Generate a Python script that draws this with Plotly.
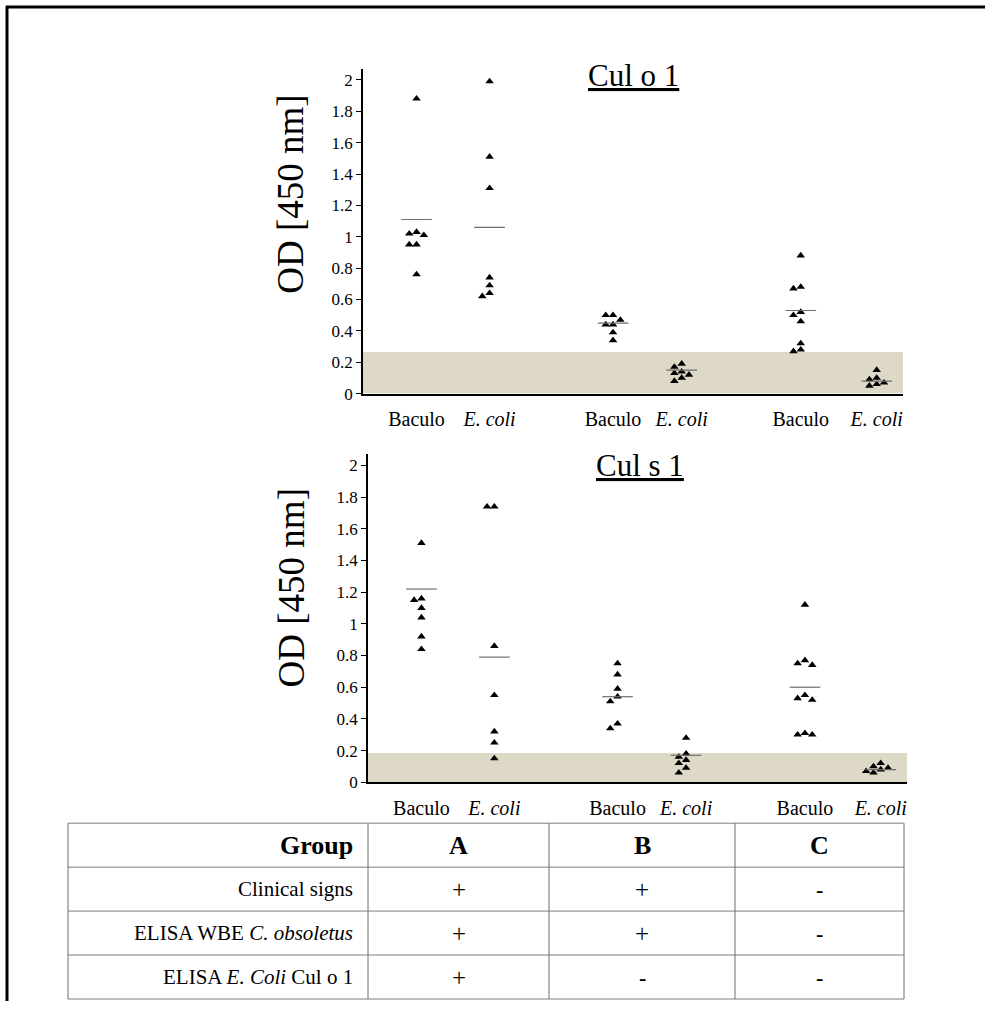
import plotly.graph_objects as go

# ---------------- data ----------------
categories = ["Baculo", "<i>E. coli</i>", "Baculo", "<i>E. coli</i>", "Baculo", "<i>E. coli</i>"]
groups = ["A", "B", "C"]

culo1_A_baculo = [1.88, 1.03, 1.02, 1.01, 0.95, 0.95, 0.76]
culo1_A_ecoli = [1.99, 1.51, 1.31, 0.74, 0.69, 0.64, 0.62]
culo1_B_baculo = [0.50, 0.50, 0.47, 0.44, 0.44, 0.39, 0.34]
culo1_B_ecoli = [0.19, 0.17, 0.14, 0.13, 0.12, 0.10, 0.08]
culo1_C_baculo = [0.88, 0.68, 0.67, 0.52, 0.50, 0.46, 0.32, 0.28, 0.27]
culo1_C_ecoli = [0.15, 0.10, 0.09, 0.07, 0.06, 0.05]
culo1_means = [1.11, 1.06, 0.45, 0.15, 0.53, 0.08]
culo1_cutoff = 0.265

culs1_A_baculo = [1.51, 1.16, 1.15, 1.10, 1.04, 0.92, 0.84]
culs1_A_ecoli = [1.74, 1.74, 0.86, 0.55, 0.32, 0.25, 0.15]
culs1_B_baculo = [0.75, 0.68, 0.59, 0.54, 0.51, 0.37, 0.34]
culs1_B_ecoli = [0.28, 0.18, 0.16, 0.14, 0.12, 0.09, 0.06]
culs1_C_baculo = [1.12, 0.77, 0.75, 0.74, 0.55, 0.53, 0.52, 0.31, 0.30, 0.30]
culs1_C_ecoli = [0.12, 0.10, 0.09, 0.08, 0.07, 0.06]
culs1_means = [1.22, 0.79, 0.54, 0.17, 0.60, 0.08]
culs1_cutoff = 0.185

y_ticks = [0, 0.2, 0.4, 0.6, 0.8, 1, 1.2, 1.4, 1.6, 1.8, 2]
y_ticktext = ["0", "0.2", "0.4", "0.6", "0.8", "1", "1.2", "1.4", "1.6", "1.8", "2"]

table_header = ["Group", "A", "B", "C"]
table_rows = ["Clinical signs", "ELISA WBE <i>C. obsoletus</i>", "ELISA <i>E. Coli</i> Cul o 1"]
table_values = [["+", "+", "-"], ["+", "+", "-"], ["+", "-", "-"]]

# ---------------- layout constants ----------------
W, H = 985, 1011
H_EFF = 1002
FONT = "Liberation Serif"
BAND = "#DDD9C6"
POS = [0, 1, 2.69, 3.63, 5.26, 6.3]
XR = [-0.733, 6.66]
HALF = 0.21
DODGE = 0.1


def px(x):
    return x / W


def py(y):
    return 1 - y / H_EFF


def dodge(values, center):
    placed = []
    xs = []
    for v in values:
        k = 0
        for c in [0, -1, 1, -2, 2, -3, 3]:
            if all(not (abs(pv - v) < 0.035 and pc == c) for (pv, pc) in placed):
                k = c
                break
        placed.append((v, k))
        xs.append(center + k * DODGE)
    return xs


fig = go.Figure()

panels = [
    ("x", "y", [culo1_A_baculo, culo1_A_ecoli, culo1_B_baculo, culo1_B_ecoli, culo1_C_baculo, culo1_C_ecoli],
     culo1_means, culo1_cutoff),
    ("x2", "y2", [culs1_A_baculo, culs1_A_ecoli, culs1_B_baculo, culs1_B_ecoli, culs1_C_baculo, culs1_C_ecoli],
     culs1_means, culs1_cutoff),
]

for xa, ya, series, means, cutoff in panels:
    for i, vals in enumerate(series):
        fig.add_trace(go.Scatter(
            x=dodge(vals, POS[i]), y=vals, mode="markers", xaxis=xa, yaxis=ya,
            marker=dict(symbol="triangle-up", size=7.5, color="black", line=dict(width=0)),
            showlegend=False, hoverinfo="y"))
    lx, ly = [], []
    for i, m in enumerate(means):
        lx += [POS[i] - HALF, POS[i] + HALF, None]
        ly += [m, m, None]
    fig.add_trace(go.Scatter(x=lx, y=ly, mode="lines", xaxis=xa, yaxis=ya,
                             line=dict(color="#6e6e6e", width=1.2), showlegend=False, hoverinfo="skip"))
    xref_dom = ("x domain" if xa == "x" else "x2 domain")
    fig.add_shape(type="rect", xref=xref_dom, yref=ya, x0=0, x1=1, y0=0, y1=cutoff,
                  fillcolor=BAND, line=dict(width=0), layer="below")

axis_common_y = dict(range=[0, 2.07], tickvals=y_ticks, ticktext=y_ticktext, showline=True,
                     linecolor="black", linewidth=1.5, ticks="outside", ticklen=5, tickwidth=1,
                     tickcolor="black", showgrid=False, zeroline=False,
                     tickfont=dict(family=FONT, size=17, color="black"))
axis_common_x = dict(range=XR, tickvals=POS, ticktext=categories, showline=True, linecolor="black",
                     linewidth=1.5, ticks="outside", ticklen=7, tickcolor="rgba(0,0,0,0)",
                     showgrid=False, zeroline=False,
                     tickfont=dict(family=FONT, size=20, color="black"))

fig.update_layout(
    width=W, height=H, autosize=False,
    margin=dict(l=0, r=0, t=0, b=0),
    paper_bgcolor="white", plot_bgcolor="rgba(0,0,0,0)",
    font=dict(family=FONT, color="black"),
    xaxis=dict(domain=[px(363), px(903)], anchor="y", **axis_common_x),
    yaxis=dict(domain=[py(394), py(394 - 2.07 * 157)], anchor="x", **axis_common_y),
    xaxis2=dict(domain=[px(368), px(907)], anchor="y2", **axis_common_x),
    yaxis2=dict(domain=[py(783), py(783 - 2.07 * 158.5)], anchor="x2", **axis_common_y),
)

ann = []
# titles
ann.append(dict(text="<u>Cul o 1</u>", x=px(633), y=py(76), xref="paper", yref="paper",
                showarrow=False, font=dict(family=FONT, size=31, color="black"),
                xanchor="center", yanchor="middle"))
ann.append(dict(text="<u>Cul s 1</u>", x=px(640), y=py(466), xref="paper", yref="paper",
                showarrow=False, font=dict(family=FONT, size=31, color="black"),
                xanchor="center", yanchor="middle"))
# y titles
for yc in [195, 589]:
    ann.append(dict(text="OD [450 nm]", x=px(291), y=py(yc), xref="paper", yref="paper",
                    showarrow=False, textangle=-90, font=dict(family=FONT, size=37, color="black"),
                    xanchor="center", yanchor="middle"))

# table
col_edges = [68, 368, 549, 735, 904]
row_edges = [824, 868, 912, 956, 1000]
shapes = []
for ry in row_edges:
    shapes.append(dict(type="line", xref="paper", yref="paper", x0=px(col_edges[0]), x1=px(col_edges[-1]),
                       y0=py(ry), y1=py(ry), line=dict(color="#7f7f7f", width=1)))
for cx in col_edges:
    shapes.append(dict(type="line", xref="paper", yref="paper", x0=px(cx), x1=px(cx),
                       y0=py(row_edges[0]), y1=py(row_edges[-1]), line=dict(color="#6f6f6f", width=1)))
# frame (top and left edges)
shapes.append(dict(type="line", xref="paper", yref="paper", x0=px(6), x1=px(985), y0=py(7), y1=py(7),
                   line=dict(color="black", width=3)))
shapes.append(dict(type="line", xref="paper", yref="paper", x0=px(7), x1=px(7), y0=py(6), y1=0,
                   line=dict(color="black", width=3)))

for s in shapes:
    fig.add_shape(**s)

row_centers = [(row_edges[i] + row_edges[i + 1]) / 2 for i in range(len(row_edges) - 1)]
col_centers = [(col_edges[i] + col_edges[i + 1]) / 2 for i in range(len(col_edges) - 1)]

ann.append(dict(text="<b>" + table_header[0] + "</b>", x=px(355), y=py(row_centers[0]), xref="paper",
                yref="paper", showarrow=False, xanchor="right", yanchor="middle",
                font=dict(family=FONT, size=26, color="black")))
for j, h in enumerate(table_header[1:]):
    ann.append(dict(text="<b>" + h + "</b>", x=px(col_centers[j + 1]), y=py(row_centers[0]), xref="paper",
                    yref="paper", showarrow=False, xanchor="center", yanchor="middle",
                    font=dict(family=FONT, size=26, color="black")))
for i, r in enumerate(table_rows):
    ann.append(dict(text=r, x=px(355), y=py(row_centers[i + 1]), xref="paper", yref="paper",
                    showarrow=False, xanchor="right", yanchor="middle",
                    font=dict(family=FONT, size=21, color="black")))
    for j, v in enumerate(table_values[i]):
        txt = v if v == "+" else "<b>-</b>"
        ann.append(dict(text=txt, x=px(col_centers[j + 1]), y=py(row_centers[i + 1]), xref="paper",
                        yref="paper", showarrow=False, xanchor="center", yanchor="middle",
                        font=dict(family=FONT, size=25 if v == "+" else 22, color="black")))

fig.update_layout(annotations=ann)
fig.write_html("out.html")
